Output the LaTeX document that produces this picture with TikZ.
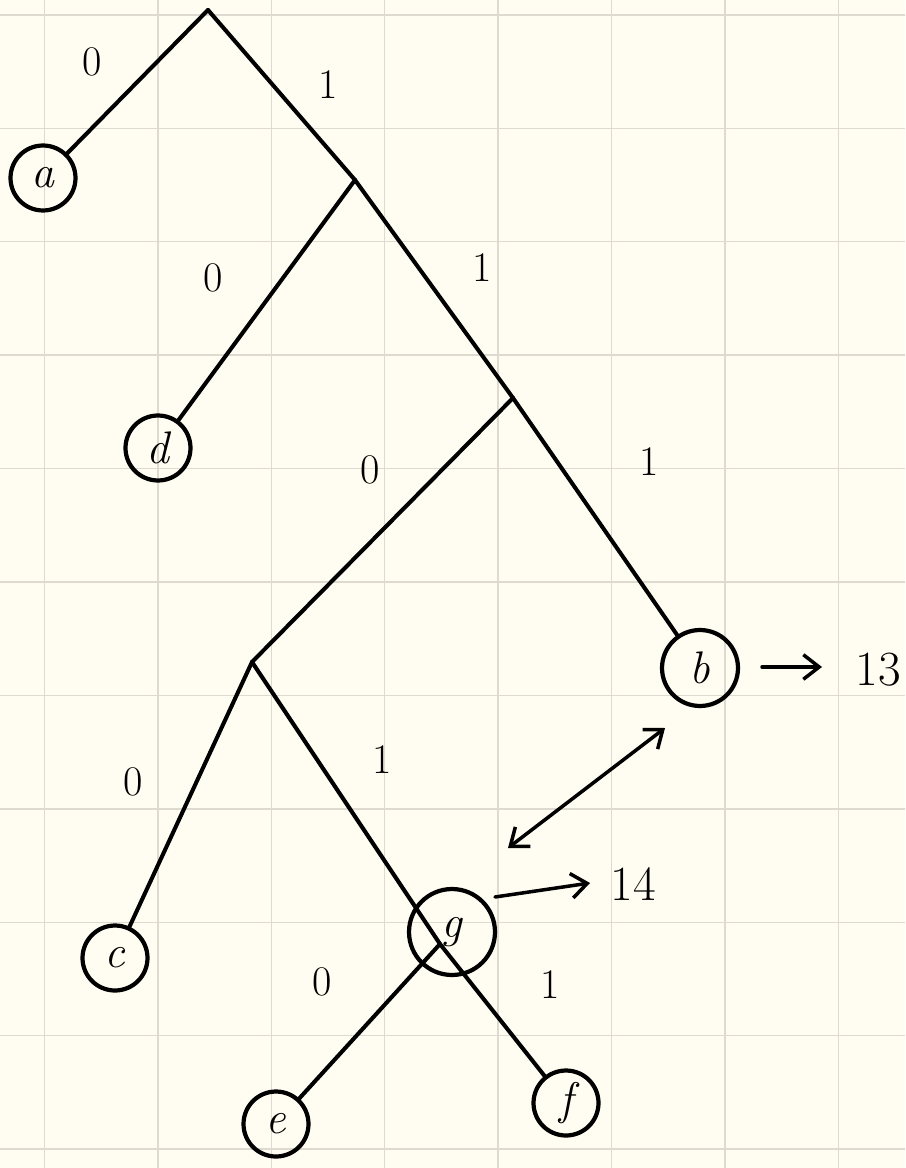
\documentclass[tikz,border=0pt]{standalone}
\usetikzlibrary{arrows.meta}
\definecolor{paper}{HTML}{FFFDF1}
\definecolor{gridc}{HTML}{DEDAD0}
\begin{document}
\begin{tikzpicture}[x=0.02cm,y=-0.02cm,
  edge/.style={line width=2.3pt,line cap=round,line join=round},
  leaf/.style={circle,draw,line width=2.4pt,minimum size=1.3cm,inner sep=0pt,font=\fontsize{26}{30}\selectfont\itshape},
  lbl/.style={font=\fontsize{24}{28}\selectfont},
  num/.style={font=\fontsize{28}{32}\selectfont,inner sep=0pt},
  arr/.style={line width=2pt,line cap=round,-{Straight Barb[length=9pt,width=14pt,line width=2pt]}},
  darr/.style={line width=2pt,line cap=round,{Straight Barb[length=9pt,width=14pt,line width=2pt]}-{Straight Barb[length=9pt,width=14pt,line width=2pt]}}]
\fill[paper] (0,0) rectangle (905,1168);
\useasboundingbox (0,0) rectangle (905,1168);
% grid
\foreach \k in {0,...,7} \draw[gridc,line width=0.8pt] ({44.5+113.4*\k},0) -- ({44.5+113.4*\k},1168);
\foreach \k in {0,...,10} \draw[gridc,line width=0.8pt] (0,{15+113.4*\k}) -- (905,{15+113.4*\k});
% internal points
\coordinate (root) at (208,10);
\coordinate (n1) at (355,180);
\coordinate (n2) at (513,398);
\coordinate (n3) at (252,662);
\coordinate (gx) at (440,944);
% leaves
\node[leaf] (a) at (43,178) {a};
\node[leaf] (d) at (158,448) {d};
\node[leaf,minimum size=1.52cm] (b) at (700,668) {b};
\node[leaf] (c) at (115,958) {c};
\node[leaf,minimum size=1.72cm] (g) at (452,932) {g};
\node[leaf] (e) at (276,1124) {e};
\node[leaf] (f) at (566,1103) {f};
% edges
\draw[edge] (root) -- (a);
\draw[edge] (root) -- (n1);
\draw[edge] (n1) -- (d);
\draw[edge] (n1) -- (n2);
\draw[edge] (n2) -- (b);
\draw[edge] (n2) -- (n3);
\draw[edge] (n3) -- (c);
\draw[edge] (n3) -- (gx) -- (f);
\draw[edge] (gx) -- (e);
% edge labels
\node[lbl] (l1) at (92,62) {0};
\node[lbl] (l2) at (328,85) {1};
\node[lbl] (l3) at (213,278) {0};
\node[lbl] (l4) at (482,268) {1};
\node[lbl] (l5) at (370,470) {0};
\node[lbl] (l6) at (649,462) {1};
\node[lbl] (l7) at (133,782) {0};
\node[lbl] (l8) at (382,760) {1};
\node[lbl] (l9) at (322,982) {0};
\node[lbl] (l10) at (550,985) {1};
% weights
\node[num] (t13) at (878,670) {13};
\node[num] (t14) at (633,884) {14};
\coordinate (b1) at (762,667);
\coordinate (b2) at (822,667);
\draw[arr] (b1) -- (b2);
\coordinate (g1) at (495,897);
\coordinate (g2) at (590,883);
\draw[arr] (g1) -- (g2);
\coordinate (da1) at (508,848);
\coordinate (da2) at (665,728);
\draw[darr] (da1) -- (da2);
\end{tikzpicture}
\end{document}
